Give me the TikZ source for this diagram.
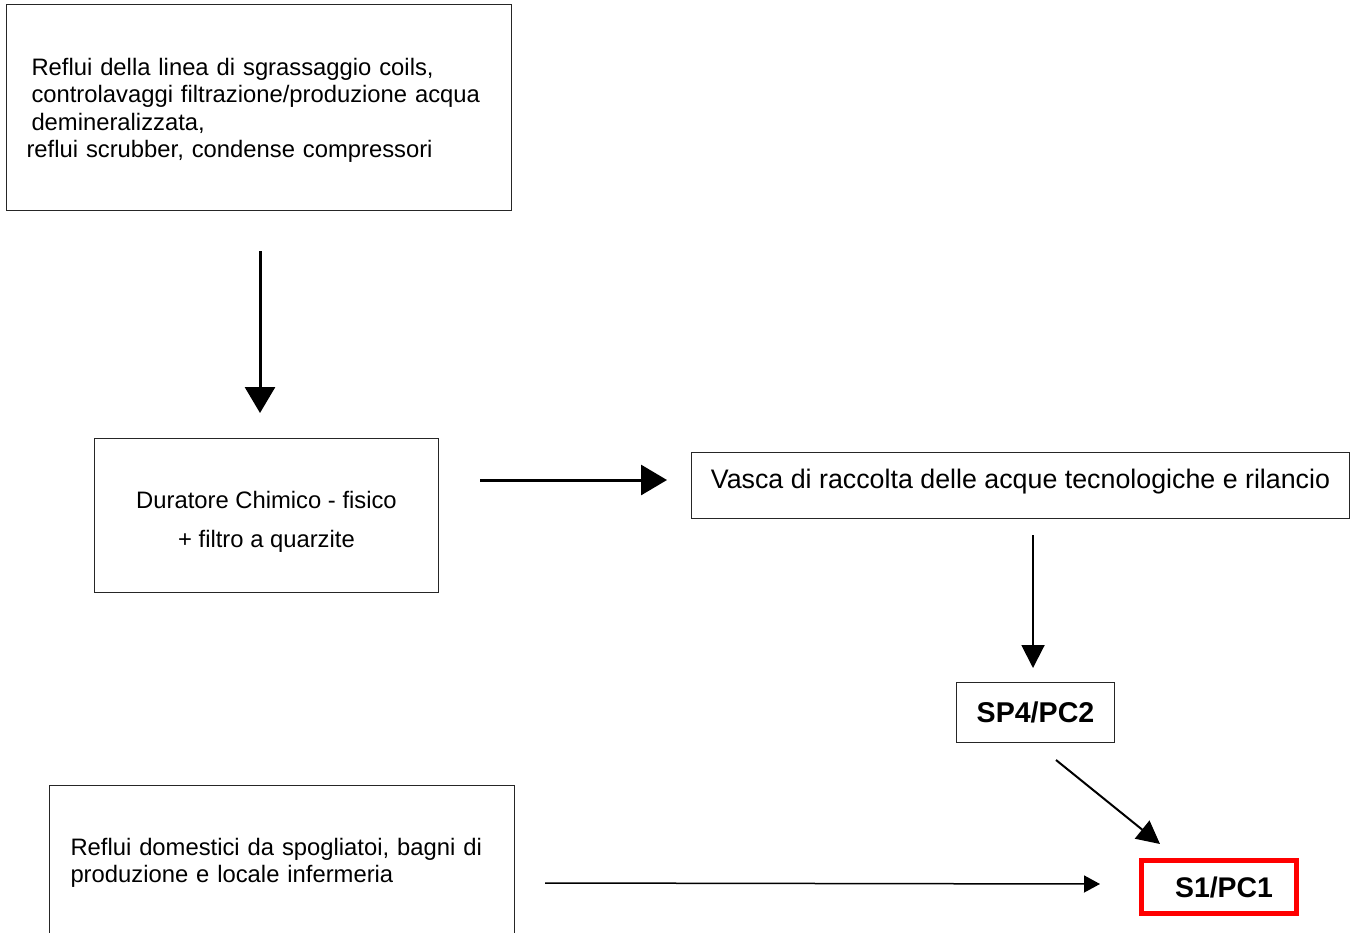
\documentclass[tikz,border=0pt]{standalone}
\usepackage{fontspec}
\setmainfont{Liberation Sans}
\usetikzlibrary{arrows.meta}
\begin{document}
\begin{tikzpicture}[x=1pt,y=-1pt,
  box/.style={draw=black!85, line width=1pt, inner sep=0pt, anchor=north west},
  txt/.style={font=\fontsize{23.8}{27.4}\selectfont},
  bigarrow/.style={line width=3pt, -{Triangle[length=26pt,width=30pt]}},
  midarrow/.style={line width=2pt, -{Triangle[length=23pt,width=23pt]}},
  thinarrow/.style={line width=1.5pt, -{Triangle[length=16pt,width=17pt]}}]
\useasboundingbox (0,0) rectangle (1357,932);
\clip (0,0) rectangle (1357,932);
\fill[white] (0,0) rectangle (1357,932);

\node[box, txt, minimum width=505, minimum height=206, text width=455, align=left, text height=18pt, text depth=82pt] (src) at (6,4)
  {Reflui della linea di sgrassaggio coils,\\controlavaggi filtrazione/produzione acqua\\demineralizzata,\\\hspace*{-5pt}reflui scrubber, condense compressori};

\node[box, font=\fontsize{23.8}{39}\selectfont, minimum width=344, minimum height=154, align=center, text depth=0pt, text height=64pt] (dur) at (94,438)
  {Duratore Chimico - fisico\\+ filtro a quarzite};

\node[box, font=\fontsize{26.8}{30}\selectfont, minimum width=658, minimum height=66, text depth=14pt] (vasca) at (691,452)
  {Vasca di raccolta delle acque tecnologiche e rilancio};

\node[box, font=\bfseries\fontsize{28.6}{32}\selectfont, minimum width=158, minimum height=60] (sp4) at (956,682)
  {SP4/PC2};

\node[box, txt, minimum width=465, minimum height=152, text width=423, align=left, text height=18pt, text depth=30pt] (dom) at (49,785)
  {Reflui domestici da spogliatoi, bagni di\\produzione e locale infermeria};

\node[draw=red, line width=5pt, inner sep=0pt, anchor=north west, font=\bfseries\fontsize{28.4}{32}\selectfont, minimum width=155, minimum height=53] (s1) at (1139,858)
  {\hspace*{10pt}S1/PC1};

\coordinate (a1s) at (260,251);
\coordinate (a1e) at (260,413);
\coordinate (a2s) at (480,480);
\coordinate (a2e) at (667,480);
\coordinate (a3s) at (1033,535);
\coordinate (a3e) at (1033,668);
\coordinate (a4s) at (1056,760);
\coordinate (a4e) at (1160,844);
\coordinate (a5s) at (545,883);
\coordinate (a5e) at (1100,884);

\draw[bigarrow] (a1s) -- (a1e);
\draw[bigarrow] (a2s) -- (a2e);
\draw[midarrow] (a3s) -- (a3e);
\draw[midarrow] (a4s) -- (a4e);
\draw[thinarrow] (a5s) -- (a5e);
\end{tikzpicture}
\end{document}
